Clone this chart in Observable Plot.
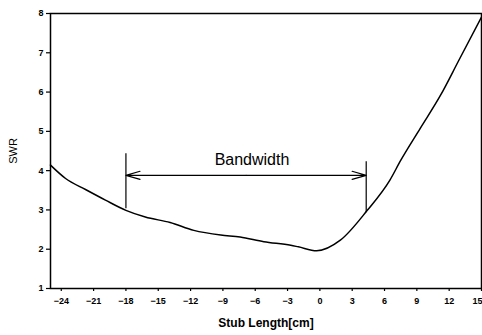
<!DOCTYPE html>
<html>
<head>
<meta charset="utf-8">
<script src="https://cdn.jsdelivr.net/npm/d3@7"></script>
<script src="https://cdn.jsdelivr.net/npm/@observablehq/plot@0.6"></script>
<style>
  html, body { margin: 0; padding: 0; background: #fff; }
  #chart svg { display: block; }
</style>
</head>
<body>
<div id="chart"></div>
<script>
// Curve data
const stubLength = [-25, -23.6, -21.75, -19.9, -18, -16.2, -13.9, -11.7, -9.2, -7.4, -5.2, -2.7, -2, -0.3, 1.9, 4.4, 6.5, 7.5, 9.3, 11.2, 12.9, 15];
const swr        = [4.14, 3.80, 3.52, 3.25, 2.99, 2.82, 2.68, 2.48, 2.36, 2.31, 2.19, 2.10, 2.06, 1.96, 2.23, 2.99, 3.76, 4.26, 5.07, 5.92, 6.81, 7.91];

// Axis ticks
const xTicks = [-24, -21, -18, -15, -12, -9, -6, -3, 0, 3, 6, 9, 12, 15];
const yTicks = [1, 2, 3, 4, 5, 6, 7, 8];

// Bandwidth annotation
const bandEdges = [-18, 4.3];
const bandTop = [4.44, 4.24];
const bandBottom = [3.04, 2.94];
const arrowLevel = 3.88;
const bandLabel = "Bandwidth";
const bandLabelPos = [-6.3, 4.27];

const data = stubLength.map((x, i) => ({x, y: swr[i]}));
const verticals = bandEdges.map((x, i) => ({x, y1: bandBottom[i], y2: bandTop[i]}));
const mid = (bandEdges[0] + bandEdges[1]) / 2;
const arrows = bandEdges.map(x => ({x1: mid, x2: x, y: arrowLevel}));

const chart = Plot.plot({
  width: 482,
  height: 335,
  marginLeft: 50,
  marginRight: 1,
  marginTop: 13,
  marginBottom: 47,
  style: {fontFamily: "'Liberation Sans', Arial, sans-serif", fontSize: "9px", fontWeight: "bold", color: "#000", background: "#fff"},
  x: {domain: [-25, 15]},
  y: {domain: [1, 8]},
  marks: [
    Plot.axisX({ticks: xTicks, tickFormat: d3.format("d"), tickSize: 3, tickPadding: 6, label: "Stub Length[cm]", labelAnchor: "center", labelArrow: "none", labelOffset: 38, fontSize: 9, strokeWidth: 1.2}),
    Plot.axisY({ticks: yTicks, tickFormat: d3.format("d"), tickSize: 4, tickPadding: 3, label: "SWR", labelAnchor: "center", labelArrow: "none", labelOffset: 41, strokeWidth: 1.2}),
    Plot.frame({stroke: "#000", strokeWidth: 1.5}),
    Plot.line(data, {x: "x", y: "y", curve: "monotone-x", stroke: "#000", strokeWidth: 1.5}),
    Plot.link(verticals, {x1: "x", x2: "x", y1: "y1", y2: "y2", stroke: "#000", strokeWidth: 1.2}),
    Plot.arrow(arrows, {x1: "x1", x2: "x2", y1: "y", y2: "y", stroke: "#000", strokeWidth: 1.1, headLength: 20, headAngle: 32, inset: 0}),
    Plot.text([bandLabel], {x: () => bandLabelPos[0], y: () => bandLabelPos[1], text: d => d, fontSize: 16, fontWeight: "normal", fill: "#000"})
  ]
});

// Style axis label texts
chart.querySelectorAll("[aria-label='x-axis label'] text").forEach(t => { t.setAttribute("font-size", "12"); });
chart.querySelectorAll("[aria-label='y-axis label'] text").forEach(t => { t.setAttribute("font-size", "11"); t.setAttribute("font-weight", "normal"); });
// Keep the last x tick label inside the picture
const xTickTexts = chart.querySelectorAll("[aria-label='x-axis tick label'] text");
if (xTickTexts.length) {
  const last = xTickTexts[xTickTexts.length - 1];
  last.setAttribute("text-anchor", "end");
  last.setAttribute("dx", "1");
}
document.getElementById("chart").appendChild(chart);
</script>
</body>
</html>
